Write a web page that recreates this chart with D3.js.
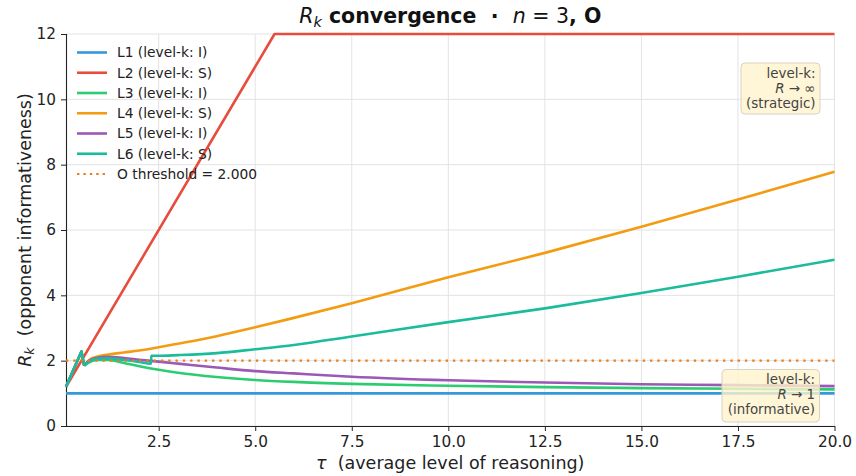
<!DOCTYPE html>
<html><head><meta charset="utf-8">
<script src="https://cdn.jsdelivr.net/npm/d3@7/dist/d3.min.js"></script>
<style>
body{margin:0;background:#fff;}
text{font-family:"DejaVu Sans",sans-serif;white-space:pre;}
</style></head>
<body><svg id="c" width="856" height="476"></svg>
<script>
// ---- data ----
const tauGrid = [0.1, 0.5, 0.57, 0.7, 0.9, 1.2, 1.6, 2.0, 2.5, 3, 4, 5, 6, 7.5, 10, 12.5, 15, 17.5, 20];
const L1 = [1,1,1,1,1,1,1,1,1,1,1,1,1,1,1,1,1,1,1];
const tauL2 = [0.1, 5.5, 20];
const L2 = [1.2, 12, 12];
const L3 = [1.2, 2.28, 1.85, 1.95, 2.02, 2.02, 1.93, 1.83, 1.72, 1.63, 1.50, 1.41, 1.35, 1.29, 1.23, 1.19, 1.16, 1.14, 1.12];
const L4 = [1.2, 2.28, 1.85, 2.02, 2.12, 2.19, 2.25, 2.31, 2.41, 2.52, 2.75, 3.02, 3.31, 3.76, 4.55, 5.30, 6.10, 6.93, 7.78];
const L5 = [1.2, 2.28, 1.85, 2.00, 2.09, 2.12, 2.08, 2.03, 1.97, 1.91, 1.79, 1.68, 1.61, 1.51, 1.40, 1.33, 1.28, 1.25, 1.22];
const tauL6 = [0.1, 0.5, 0.57, 0.7, 0.9, 1.2, 1.6, 2.0, 2.3, 2.31, 2.5, 3, 4, 5, 6, 7.5, 10, 12.5, 15, 17.5, 20];
const L6 = [1.2, 2.28, 1.85, 1.98, 2.06, 2.07, 2.02, 1.96, 1.91, 2.15, 2.15, 2.17, 2.23, 2.35, 2.48, 2.74, 3.18, 3.60, 4.07, 4.57, 5.09];
const seriesNames = ["L1 (level-k: I)","L2 (level-k: S)","L3 (level-k: I)","L4 (level-k: S)","L5 (level-k: I)","L6 (level-k: S)"];
const seriesColors = ["#3498db","#e74c3c","#2ecc71","#f39c12","#9b59b6","#1abc9c"];
const threshold = 2.0;
const thresholdLabel = "O threshold = 2.000";
const xTicks = [2.5, 5, 7.5, 10, 12.5, 15, 17.5, 20];
const yTicks = [0, 2, 4, 6, 8, 10, 12];

// ---- layout ----
const svg = d3.select("#c");
const L = 66, R = 834.5, T = 34, B = 426;
const x = d3.scaleLinear().domain([0.1, 20]).range([L, R]);
const y = d3.scaleLinear().domain([0, 12]).range([B, T]);

// grid
const g = svg.append("g");
g.selectAll(".gx").data(xTicks).join("line")
  .attr("x1", d => x(d)).attr("x2", d => x(d)).attr("y1", T).attr("y2", B)
  .attr("stroke", "#e3e3e3").attr("stroke-width", 1);
g.selectAll(".gy").data(yTicks).join("line")
  .attr("x1", L).attr("x2", R).attr("y1", d => y(d)).attr("y2", d => y(d))
  .attr("stroke", "#e3e3e3").attr("stroke-width", 1);

// axes
const fs = "15.3px";
const xAxis = svg.append("g").attr("transform", `translate(0,${B})`)
  .call(d3.axisBottom(x).tickValues(xTicks).tickFormat(d3.format(".1f")).tickSizeOuter(0).tickSize(5).tickPadding(5));
const yAxis = svg.append("g").attr("transform", `translate(${L},0)`)
  .call(d3.axisLeft(y).tickValues(yTicks).tickFormat(d3.format("d")).tickSizeOuter(0).tickSize(5).tickPadding(5));
[xAxis, yAxis].forEach(a => {
  a.selectAll("text").style("font-size", fs).attr("fill", "#222").style("font-family", '"DejaVu Sans",sans-serif');
  a.selectAll("line").attr("stroke", "#222");
  a.select(".domain").attr("stroke", "#222").attr("stroke-width", 1.1);
});
xAxis.select(".domain").attr("d", `M${L},0.5H${R+0.5}`);
yAxis.select(".domain").attr("d", `M0.5,${B}V${T}`);

// series
const linLine = d3.line().x(d => x(d[0])).y(d => y(d[1]));
const smoothLine = d3.line().x(d => x(d[0])).y(d => y(d[1])).curve(d3.curveMonotoneX);
const seriesData = [
  d3.zip(tauGrid, L1), d3.zip(tauL2, L2), d3.zip(tauGrid, L3),
  d3.zip(tauGrid, L4), d3.zip(tauGrid, L5), d3.zip(tauL6, L6)
];
seriesData.forEach((pts, i) => {
  let dStr;
  if (i === 0 || i === 1) dStr = linLine(pts);
  else dStr = linLine(pts.slice(0, 3)) + smoothLine(pts.slice(2));
  svg.append("path").attr("d", dStr).attr("fill", "none")
    .attr("stroke", seriesColors[i]).attr("stroke-width", 2.6)
    .attr("stroke-linejoin", "round");
});
// threshold
svg.append("line").attr("x1", L).attr("x2", R).attr("y1", y(threshold)).attr("y2", y(threshold))
  .attr("stroke", "#e67e22").attr("stroke-width", 2.4).attr("stroke-dasharray", "2.4 4.9");

// legend
const lg = svg.append("g");
const legendItems = seriesNames.map((n, i) => ({n, c: seriesColors[i], dash: null}))
  .concat([{n: thresholdLabel, c: "#e67e22", dash: "2.4 4.0"}]);
legendItems.forEach((it, i) => {
  const yy = 52.5 + i * 20.25;
  lg.append("line").attr("x1", 77).attr("x2", 107).attr("y1", yy).attr("y2", yy)
    .attr("stroke", it.c).attr("stroke-width", it.dash ? 2.2 : 2.6)
    .attr("stroke-dasharray", it.dash);
  lg.append("text").attr("x", 117).attr("y", yy).attr("dy", "0.36em")
    .style("font-size", "13.8px").attr("fill", "#222").text(it.n);
});

// annotation boxes
function note(x0, x1, y0, y1, lines) {
  svg.append("rect").attr("x", x0).attr("y", y0).attr("width", x1 - x0).attr("height", y1 - y0)
    .attr("rx", 4).attr("fill", "#fff3cd").attr("fill-opacity", 0.8)
    .attr("stroke", "#d8d2c0").attr("stroke-width", 1);
  lines.forEach((ln, i) => {
    const t = svg.append("text").attr("x", x1 - 4.5).attr("y", y0 + 14.5 + i * 15.2)
      .attr("text-anchor", "end").style("font-size", "13.4px").attr("fill", "#444");
    ln.forEach(p => t.append("tspan").style("font-style", p.it ? "italic" : "normal").text(p.s));
  });
}
note(741, 820, 63, 114, [[{s:"level-k:"}], [{s:"R", it:true}, {s:" → ∞"}], [{s:"(strategic)"}]]);
note(722, 819.5, 369.5, 422, [[{s:"level-k:"}], [{s:"R", it:true}, {s:" → 1"}], [{s:"(informative)"}]]);

// title
const tt = svg.append("text").attr("x", (L + R) / 2).attr("y", 23).attr("text-anchor", "middle")
  .style("font-size", "20.5px").attr("fill", "#111");
tt.append("tspan").style("font-style", "italic").text("R");
tt.append("tspan").style("font-style", "italic").style("font-size", "14.5px").attr("dy", 4).text("k");
tt.append("tspan").attr("dy", -4).style("font-weight", "bold").text(" convergence  ·  ");
tt.append("tspan").style("font-style", "italic").text("n");
tt.append("tspan").text(" = 3");
tt.append("tspan").style("font-weight", "bold").text(", O");

// axis labels
const xl = svg.append("text").attr("x", (L + R) / 2).attr("y", 469).attr("text-anchor", "middle")
  .style("font-size", "17.5px").attr("fill", "#222");
xl.append("tspan").style("font-style", "italic").text("τ");
xl.append("tspan").text("  (average level of reasoning)");
const yl = svg.append("text").attr("transform", `translate(31,${(T + B) / 2}) rotate(-90)`)
  .attr("text-anchor", "middle").style("font-size", "17.5px").attr("fill", "#222");
yl.append("tspan").style("font-style", "italic").text("R");
yl.append("tspan").style("font-style", "italic").style("font-size", "12.5px").attr("dy", 3).text("k");
yl.append("tspan").attr("dy", -3).text("  (opponent informativeness)");
</script></body></html>
